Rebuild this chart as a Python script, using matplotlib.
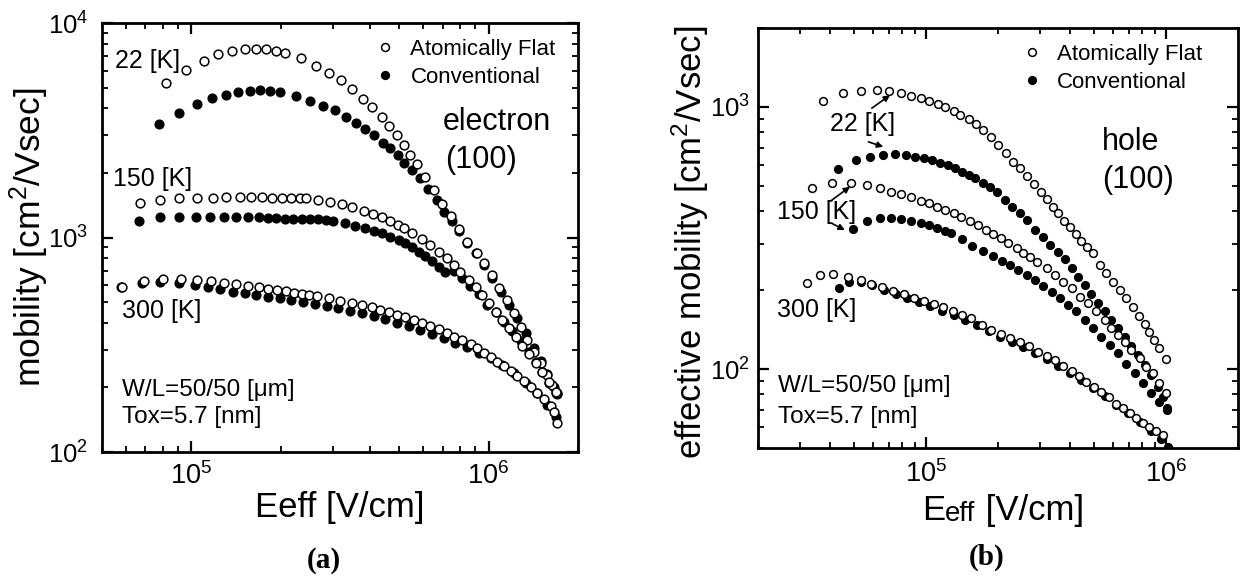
import matplotlib
matplotlib.use("Agg")
import matplotlib.pyplot as plt
from matplotlib.ticker import LogLocator, NullFormatter

plt.rcParams['font.family'] = ['Liberation Sans', 'DejaVu Sans']
plt.rcParams['mathtext.fontset'] = 'custom'
plt.rcParams['mathtext.rm'] = 'Liberation Sans'
plt.rcParams['mathtext.it'] = 'Liberation Sans:italic'
plt.rcParams['mathtext.bf'] = 'Liberation Sans:bold'
plt.rcParams['mathtext.default'] = 'regular'

# ---------------- (a) electron (100) ----------------
el_22_flat_x = [82200, 96000, 109800, 122600, 137200, 151000, 164500, 178600, 193000, 206500,
                233000, 262000, 291000, 318000, 348000, 379000, 405000, 437000, 464000, 492000,
                518000, 545000, 574000, 612000, 653000, 698000, 745000, 795000, 848000, 916000,
                965000, 1029000, 1084000, 1157000, 1217000, 1282000, 1351000, 1422000, 1499000,
                1578000, 1641000, 1698000]
el_22_flat_y = [5230, 6040, 6670, 7140, 7400, 7530, 7560, 7530, 7430, 7270,
                6840, 6310, 5830, 5420, 4920, 4420, 4050, 3660, 3310, 3000,
                2700, 2430, 2200, 1920, 1660, 1440, 1260, 1090, 955, 843,
                758, 668, 579, 511, 443, 384, 333, 294, 259,
                229, 205, 188]
el_22_conv_x = [78000, 91000, 104200, 117500, 130300, 143300, 157000, 170600, 184400, 198300,
                224500, 250500, 277900, 304300, 331300, 358000, 384000, 412000, 441000, 467000,
                495000, 520000, 552000, 586000, 624000, 671000, 706000, 754000, 795000, 848000,
                904000, 965000, 1029000, 1099000, 1172000, 1250000, 1334000, 1422000, 1499000,
                1578000, 1663000, 1706000]
el_22_conv_y = [3375, 3820, 4180, 4460, 4620, 4750, 4830, 4870, 4820, 4780,
                4570, 4340, 4110, 3930, 3660, 3400, 3190, 3000, 2770, 2600,
                2430, 2230, 2070, 1890, 1690, 1500, 1320, 1190, 1075, 940,
                845, 745, 650, 560, 485, 420, 360, 306, 266,
                232, 202, 186]
el_150_flat_x = [67100, 78500, 91000, 104200, 118000, 131000, 145300, 159000, 173300, 187400,
                 202500, 217000, 231700, 243900, 267200, 292500, 320400, 348000, 379500, 408000,
                 437000, 466900, 494000, 520000, 552000, 597000, 637000, 680000, 725000, 763000,
                 804000, 858000, 904000, 952000, 1003000, 1057000, 1113000, 1172000, 1234000,
                 1300000, 1369000, 1442000, 1518000, 1599000, 1683000]
el_150_flat_y = [1452, 1496, 1523, 1523, 1535, 1540, 1540, 1540, 1540, 1535,
                 1535, 1528, 1523, 1523, 1496, 1459, 1428, 1383, 1334, 1288,
                 1242, 1194, 1143, 1104, 1047, 981, 923, 859, 800, 744,
                 693, 634, 586, 540, 493, 451, 412, 377, 345,
                 312, 286, 259, 237, 213, 191]
el_150_conv_x = [66700, 78300, 90600, 103700, 115600, 128300, 141500, 155000, 168800, 181000,
                 193200, 206000, 219800, 234800, 250500, 267200, 283000, 300000, 328600, 355400,
                 384000, 410000, 437000, 466900, 498000, 524600, 552000, 581600, 612600, 645000,
                 679000, 715800, 763000, 815000, 869000, 927000, 990000, 1057000, 1127000,
                 1203000, 1282000, 1368000, 1442000, 1518000, 1599000, 1683000]
el_150_conv_y = [1197, 1242, 1250, 1250, 1250, 1250, 1250, 1250, 1242, 1233,
                 1229, 1225, 1220, 1216, 1216, 1216, 1208, 1197, 1164, 1135,
                 1104, 1076, 1047, 1009, 973, 939, 899, 859, 820, 777,
                 731, 693, 700, 650, 595, 545, 485, 448, 405,
                 366, 330, 293, 262, 236, 210, 188]
el_300_flat_x = [58600, 69300, 80400, 92300, 104200, 116600, 129100, 141500, 155000, 168800,
                 181000, 194300, 207800, 221300, 234800, 249000, 263700, 291000, 316200, 346600,
                 374500, 404800, 431800, 460600, 491500, 524600, 559900, 597400, 637400, 679900,
                 725500, 767000, 814800, 869600, 915900, 964700, 1016000, 1070000, 1127000,
                 1186000, 1250000, 1316000, 1386000, 1461000, 1538000, 1620000, 1660000, 1706000]
el_300_flat_y = [590, 627, 638, 638, 634, 627, 615, 607, 594, 586,
                 577, 569, 561, 553, 545, 540, 534, 521, 508, 493,
                 483, 473, 459, 448, 435, 425, 412, 401, 387, 373,
                 360, 345, 333, 319, 304, 290, 278, 264, 252,
                 239, 227, 215, 202, 189, 176, 163, 154, 137]
el_300_conv_x = [57800, 68100, 78300, 90600, 102400, 113600, 124400, 138000, 151000, 165500,
                 181100, 198300, 217000, 237800, 260400, 285300, 312200, 342000, 374500, 410000,
                 449000, 491500, 538500, 589000, 645000, 706300, 773800, 847600, 927400, 1016000,
                 1112000, 1217000, 1334000, 1461000, 1578000, 1683000]
el_300_conv_y = [586, 615, 622, 615, 601, 586, 574, 559, 549, 540,
                 530, 521, 511, 502, 490, 480, 468, 456, 443, 431,
                 415, 401, 387, 370, 355, 339, 323, 308, 290, 273,
                 254, 233, 210, 188, 166, 146]

# ---------------- (b) hole (100) ----------------
ho_22_flat_x = [37150, 45400, 53600, 62400, 70200, 78500, 86400, 95100, 102900, 112100,
                120700, 130700, 139300, 150800, 162300, 174000, 186700, 200700, 216200, 231900,
                247200, 265100, 283400, 300900, 318700, 337400, 356200, 377400, 398500, 421800,
                445200, 471400, 497600, 530700, 565000, 602400, 642000, 684400, 729100, 772700,
                816000, 855300, 897500, 941100, 1003000]
ho_22_flat_y = [1055, 1127, 1151, 1161, 1154, 1134, 1105, 1079, 1057, 1026,
                997, 968, 932, 897, 861, 817, 770, 716, 665, 618,
                583, 545, 509, 475, 445, 416, 393, 368, 348, 328,
                309, 291, 276, 250, 232, 215, 200, 186, 172, 159,
                148, 139, 129, 120, 109]
ho_22_conv_x = [43100, 51100, 58600, 66600, 74200, 82400, 90600, 98100, 106200, 115000,
                123400, 132700, 141500, 150800, 160600, 174000, 185500, 197600, 214100, 228300,
                247200, 263500, 285300, 306700, 329000, 356200, 380000, 404900, 431600, 460000,
                490000, 522200, 556600, 593200, 632200, 674000, 718000, 765000, 815800, 869200,
                926400, 972000, 1010000]
ho_22_conv_y = [578, 628, 646, 656, 660, 656, 646, 637, 628, 613,
                599, 583, 566, 550, 534, 514, 496, 475, 442, 416,
                393, 370, 339, 320, 297, 280, 262, 242, 225, 209,
                194, 178, 166, 154, 143, 133, 122, 113, 104, 94.9,
                85.5, 78.3, 70.8]
ho_150_flat_x = [33700, 40800, 48700, 56800, 64400, 71400, 78600, 86400, 95100, 102900,
                 111400, 120700, 130700, 140100, 152400, 164500, 178600, 190300, 205300, 220800,
                 239200, 255100, 271000, 289800, 318700, 345100, 373800, 404900, 438400, 474800,
                 514100, 556600, 593200, 632200, 674100, 718300, 777600, 828800, 883400, 941600,
                 1003000]
ho_150_flat_y = [492, 511, 514, 504, 489, 475, 464, 452, 439, 429,
                 416, 404, 393, 379, 367, 355, 339, 328, 315, 302,
                 289, 278, 268, 257, 242, 228, 215, 203, 189, 178,
                 166, 154, 143, 135, 127, 118, 110, 102, 96.3, 88.2,
                 81.2]
ho_150_conv_x = [49900, 57000, 64400, 71400, 78600, 86400, 95100, 102900, 111400, 120700,
                 127400, 141500, 155700, 172900, 190300, 207300, 224600, 243100, 263300, 285000,
                 308800, 334500, 362300, 392000, 424700, 460000, 497800, 539200, 583900, 632200,
                 684400, 741000, 802300, 869200, 941600, 1010000]
ho_150_conv_y = [342, 368, 378, 378, 374, 368, 362, 355, 345, 337,
                 330, 313, 294, 283, 270, 259, 249, 239, 228, 219,
                 208, 197, 186, 176, 166, 154, 143, 133, 124, 115,
                 105, 96.3, 88.2, 80.7, 75.0, 69.8]
ho_300_flat_x = [32000, 36300, 41200, 47400, 53600, 59300, 65900, 73200, 81100, 89200,
                 98100, 108000, 118000, 129800, 141500, 154300, 171200, 186700, 205300, 224600,
                 247000, 270100, 294500, 318700, 345100, 373800, 404900, 435500, 467100, 501300,
                 539200, 580100, 621800, 663100, 707000, 753700, 803000, 855300, 911500, 971500]
ho_300_flat_y = [213, 228, 231, 224, 219, 211, 205, 199, 193, 187,
                 182, 177, 172, 166, 161, 156, 147, 141, 136, 131,
                 127, 122, 116, 112, 108, 103, 98.6, 94.1, 89.5, 85.5,
                 81.8, 78.3, 73.9, 70.8, 67.7, 64.8, 62.4, 60.3, 58.0, 56.0]
ho_300_conv_x = [43600, 47900, 53600, 59900, 66900, 74900, 83600, 93500, 104600, 116900,
                 130700, 146100, 163300, 182600, 204100, 228100, 255100, 285000, 318700, 356200,
                 398400, 445300, 497800, 556600, 622000, 695000, 777600, 869200, 955000, 1019000]
ho_300_conv_y = [203, 215, 215, 209, 201, 194, 187, 180, 174, 167,
                 161, 154, 147, 140, 133, 127, 121, 115, 109, 103,
                 97, 91, 85, 79, 73, 68, 63, 58, 54, 50.6]

legend_labels = ["Atomically Flat", "Conventional"]

fig = plt.figure(figsize=(12.43, 5.85), dpi=100)
ax1 = fig.add_axes([102/1243, 1-452/585, 476/1243, 429/585])
ax2 = fig.add_axes([758/1243, 1-448/585, 480/1243, 420/585])


def style_axes(ax, xlim, ylim, xpad, ypad):
    ax.set_xscale('log')
    ax.set_yscale('log')
    ax.set_xlim(*xlim)
    ax.set_ylim(*ylim)
    for s in ax.spines.values():
        s.set_linewidth(2)
    ax.xaxis.set_major_locator(LogLocator(base=10))
    ax.yaxis.set_major_locator(LogLocator(base=10))
    ax.xaxis.set_minor_locator(LogLocator(base=10, subs=range(2, 10)))
    ax.yaxis.set_minor_locator(LogLocator(base=10, subs=range(2, 10)))
    ax.xaxis.set_minor_formatter(NullFormatter())
    ax.yaxis.set_minor_formatter(NullFormatter())
    ax.tick_params(which='both', direction='in', top=True, right=True, color='black')
    ax.tick_params(which='major', length=8, width=1.6)
    ax.tick_params(which='minor', length=4.5, width=1.3)
    ax.tick_params(axis='x', which='major', pad=xpad, labelsize=19.5)
    ax.tick_params(axis='y', which='major', pad=ypad, labelsize=18.5)


def plot_pair(ax, fx, fy, cx, cy, ms, lab=False):
    ax.plot(cx, cy, 'o', ls='none', ms=ms, mfc='black', mec='black', mew=1.0,
            zorder=3, label=legend_labels[1] if lab else None)
    ax.plot(fx, fy, 'o', ls='none', ms=ms, mfc='white', mec='black', mew=1.1,
            zorder=4, label=legend_labels[0] if lab else None)


# ---- panel (a)
style_axes(ax1, (5e4, 2e6), (100, 1e4), 7, 10)
plot_pair(ax1, el_22_flat_x, el_22_flat_y, el_22_conv_x, el_22_conv_y, 6.3, lab=True)
plot_pair(ax1, el_150_flat_x, el_150_flat_y, el_150_conv_x, el_150_conv_y, 6.3)
plot_pair(ax1, el_300_flat_x, el_300_flat_y, el_300_conv_x, el_300_conv_y, 6.3)

h, l = ax1.get_legend_handles_labels()
order = [l.index(legend_labels[0]), l.index(legend_labels[1])]
ax1.legend([h[i] for i in order], [l[i] for i in order], loc='upper left',
           bbox_to_anchor=(0.571, 0.963), frameon=False, fontsize=16,
           handlelength=1.0, handletextpad=0.65, labelspacing=0.3, borderpad=0,
           borderaxespad=0, markerscale=0.9)

ax1.text(0.027, 0.911, '22 [K]', transform=ax1.transAxes, fontsize=18, va='center', ha='left')
ax1.text(0.023, 0.636, '150 [K]', transform=ax1.transAxes, fontsize=18, va='center', ha='left')
ax1.text(0.042, 0.329, '300 [K]', transform=ax1.transAxes, fontsize=18, va='center', ha='left')
ax1.text(0.042, 0.1445, 'W/L=50/50 [\u03bcm]', transform=ax1.transAxes, fontsize=17.5, va='center', ha='left')
ax1.text(0.042, 0.0816, 'Tox=5.7 [nm]', transform=ax1.transAxes, fontsize=17.5, va='center', ha='left')
ax1.text(0.716, 0.769, 'electron', transform=ax1.transAxes, fontsize=22, va='center', ha='left')
ax1.text(0.721, 0.681, '(100)', transform=ax1.transAxes, fontsize=22, va='center', ha='left')

ax1.set_xlabel('Eeff [V/cm]', fontsize=25, va='center')
ax1.xaxis.set_label_coords(0.5, -0.130)
ax1.set_ylabel('mobility [cm$^2$/Vsec]', fontsize=25.5, rotation=90,
               rotation_mode='anchor', va='center', ha='center')
ax1.yaxis.set_label_coords(-0.152, 0.5)

# ---- panel (b)
style_axes(ax2, (2e4, 2e6), (50, 2000), 8.5, 6)
plot_pair(ax2, ho_22_flat_x, ho_22_flat_y, ho_22_conv_x, ho_22_conv_y, 5.6, lab=True)
plot_pair(ax2, ho_150_flat_x, ho_150_flat_y, ho_150_conv_x, ho_150_conv_y, 5.6)
plot_pair(ax2, ho_300_flat_x, ho_300_flat_y, ho_300_conv_x, ho_300_conv_y, 5.6)

h, l = ax2.get_legend_handles_labels()
order = [l.index(legend_labels[0]), l.index(legend_labels[1])]
ax2.legend([h[i] for i in order], [l[i] for i in order], loc='upper left',
           bbox_to_anchor=(0.547, 0.962), frameon=False, fontsize=16,
           handlelength=1.0, handletextpad=0.65, labelspacing=0.3, borderpad=0,
           borderaxespad=0, markerscale=1.0)

ax2.text(0.15, 0.771, '22 [K]', transform=ax2.transAxes, fontsize=18, va='center', ha='left')
ax2.text(0.040, 0.562, '150 [K]', transform=ax2.transAxes, fontsize=18, va='center', ha='left')
ax2.text(0.040, 0.329, '300 [K]', transform=ax2.transAxes, fontsize=18, va='center', ha='left')
ax2.text(0.042, 0.148, 'W/L=50/50 [\u03bcm]', transform=ax2.transAxes, fontsize=17.5, va='center', ha='left')
ax2.text(0.042, 0.074, 'Tox=5.7 [nm]', transform=ax2.transAxes, fontsize=17.5, va='center', ha='left')
ax2.text(0.717, 0.729, 'hole', transform=ax2.transAxes, fontsize=22, va='center', ha='left')
ax2.text(0.717, 0.638, '(100)', transform=ax2.transAxes, fontsize=22, va='center', ha='left')

arrow_kw = dict(arrowstyle='-|>', color='black', lw=1.2, mutation_scale=9, shrinkA=0, shrinkB=0)
for start, end in [((0.237, 0.809), (0.275, 0.840)),
                   ((0.230, 0.729), (0.261, 0.717)),
                   ((0.1535, 0.590), (0.1917, 0.622)),
                   ((0.1535, 0.535), (0.181, 0.519))]:
    ax2.annotate('', xy=end, xytext=start, xycoords='axes fraction',
                 textcoords='axes fraction', arrowprops=arrow_kw)

# x label of (b): large "E", smaller "eff", then "[V/cm]"
t_e = ax2.text(0.342, -0.171, 'E', transform=ax2.transAxes, fontsize=25,
               ha='left', va='baseline')
t_eff = ax2.annotate('eff', xy=(1, 0), xycoords=t_e, fontsize=20,
                     ha='left', va='bottom')
ax2.annotate(' [V/cm]', xy=(1, 0), xycoords=t_eff, fontsize=25,
             ha='left', va='bottom')
ax2.set_ylabel('effective mobility [cm$^2$/Vsec]', fontsize=25, rotation=90,
               rotation_mode='anchor', va='center', ha='center')
ax2.yaxis.set_label_coords(-0.142, 0.49)

fig.text(324/1243, 1-560/585, '(a)', fontfamily='Liberation Serif', fontweight='bold',
         fontsize=21, ha='center', va='center')
fig.text(987/1243, 1-557/585, '(b)', fontfamily='Liberation Serif', fontweight='bold',
         fontsize=21, ha='center', va='center')

fig.savefig('out.png', dpi=100, facecolor='white')
